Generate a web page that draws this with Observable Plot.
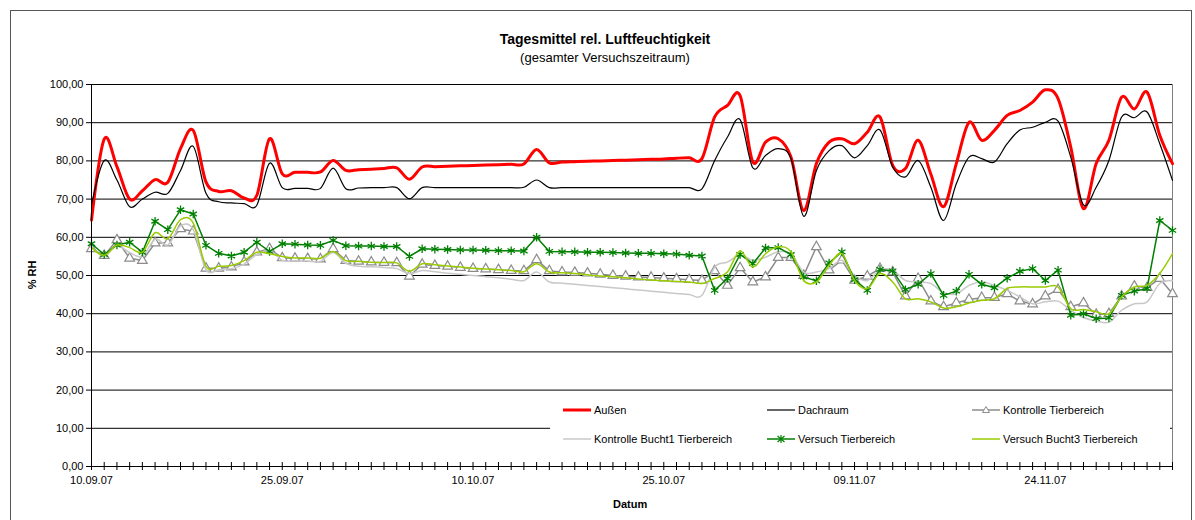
<!DOCTYPE html>
<html>
<head>
<meta charset="utf-8">
<script src="https://cdn.jsdelivr.net/npm/d3@7"></script>
<script src="https://cdn.jsdelivr.net/npm/@observablehq/plot@0.6"></script>
<style>
  html, body { margin: 0; padding: 0; background: #fff; }
  #wrap { position: relative; width: 1195px; height: 520px; font-family: "Liberation Sans", Arial, sans-serif; color: #000; overflow: hidden; }
  #border { position: absolute; left: 10px; top: 10px; width: 1182px; height: 520px; border: 1px solid #555; box-sizing: border-box; }
  #chart { position: absolute; left: 0; top: 0; }
  .t { position: absolute; white-space: nowrap; }
  #legend { position: absolute; left: 550px; top: 396px; width: 620px; height: 62px; background: #fff; font-size: 11px; }
  .li { position: absolute; display: flex; align-items: center; }
  .li svg { margin-right: 2px; }
</style>
</head>
<body>
<div id="wrap">
  <div id="border"></div>
  <div id="chart"></div>
  <div class="t" style="left:0;width:1210px;text-align:center;top:31px;font-size:14px;font-weight:bold;">Tagesmittel rel. Luftfeuchtigkeit</div>
  <div class="t" style="left:0;width:1210px;text-align:center;top:50px;font-size:13px;">(gesamter Versuchszeitraum)</div>
  <div class="t" style="left:32px;top:275px;font-size:11px;font-weight:bold;transform:translate(-50%,-50%) rotate(-90deg);transform-origin:center;">% RH</div>
  <div class="t" style="left:613px;top:498px;font-size:11px;font-weight:bold;">Datum</div>
  <div id="legend"></div>
</div>
<script>
// ---- data ----
const startDate = new Date(Date.UTC(2007, 8, 10));
const tickLabels = ["10.09.07", "25.09.07", "10.10.07", "25.10.07", "09.11.07", "24.11.07"];
const yTicks = [0, 10, 20, 30, 40, 50, 60, 70, 80, 90, 100];

const aussen = [64.5,85.7,78.5,70.0,72.2,75.1,74.4,83.2,88.0,74.5,72.0,72.2,70.3,71.0,85.8,76.6,77.0,77.0,77.1,80.1,77.5,77.7,77.8,78.0,78.2,75.2,78.4,78.5,78.6,78.7,78.8,78.9,79.0,79.1,79.2,83.0,79.5,79.7,79.8,79.9,80.0,80.1,80.2,80.3,80.4,80.5,80.7,80.8,80.6,91.5,94.5,97.1,79.7,84.9,85.8,81.0,67.0,79.3,84.9,85.8,84.5,87.5,91.5,78.8,78.0,85.4,76.5,68.0,79.3,90.1,85.4,88.0,91.9,93.2,95.4,98.6,96.3,83.6,67.5,79.3,85.4,96.7,93.6,98.0,86.7,79.3];
const dachraum = [68.5,80.1,75.0,68.0,70.0,71.8,71.5,77.5,83.8,71.5,69.3,69.0,68.8,68.4,79.4,73.0,72.8,72.8,72.8,78.1,72.7,72.9,73.0,73.0,73.0,70.1,73.0,73.0,73.0,73.0,73.0,73.0,73.0,73.0,73.1,75.0,73.0,73.0,73.0,73.0,73.0,73.0,73.0,73.0,73.0,73.0,73.0,73.0,72.7,80.1,86.2,90.8,78.2,81.4,83.2,80.6,65.5,77.5,82.7,84.0,80.8,84.0,88.1,78.4,75.8,80.1,73.1,64.4,74.0,81.0,80.6,79.7,84.5,88.1,88.8,90.1,90.4,81.0,68.5,73.1,80.1,91.5,91.3,92.8,84.5,74.9];
const kontrolle = [57.0,55.2,59.3,54.5,53.9,58.5,58.5,62.2,61.6,51.9,51.9,52.2,53.5,56.1,57.0,54.6,54.5,54.4,54.3,57.0,53.9,53.7,53.5,53.4,53.3,49.8,52.9,52.6,52.4,52.1,51.8,51.7,51.5,51.3,51.2,54.1,51.2,50.9,50.8,50.6,50.3,50.0,49.8,49.6,49.5,49.3,49.1,48.9,48.7,51.2,47.4,52.0,48.3,49.6,54.7,54.7,50.0,57.5,51.4,54.0,48.7,49.8,51.8,50.9,44.6,49.2,43.3,41.8,42.8,43.7,44.2,44.2,45.2,43.3,42.5,44.6,46.3,41.8,42.8,39.8,40.0,44.6,47.2,46.8,49.2,45.2];
const kontrolleBucht1 = [57.5,55.0,57.8,56.0,55.0,59.5,58.0,63.0,62.0,51.5,51.5,51.8,53.0,55.5,56.5,54.0,53.8,53.8,53.7,56.0,53.2,52.4,52.3,52.1,51.8,50.5,51.3,51.0,50.6,50.3,50.0,49.7,49.4,49.0,48.7,50.9,48.3,48.0,47.7,47.4,47.1,46.8,46.5,46.2,45.9,45.6,45.3,45.0,44.8,52.2,53.5,55.3,54.0,54.8,56.2,55.7,50.9,50.9,51.8,54.0,50.0,48.7,51.4,51.4,48.7,48.3,47.9,45.5,45.2,47.4,48.3,47.4,46.1,44.4,42.6,43.1,43.3,40.9,39.0,38.1,37.8,40.9,42.6,43.1,47.9,48.7];
const versuch = [58.3,55.5,58.0,58.7,56.1,64.2,62.0,67.2,66.1,57.9,55.8,55.1,56.1,58.7,56.3,58.3,58.2,58.0,57.9,59.2,57.8,57.7,57.7,57.6,57.6,55.0,57.0,56.9,56.8,56.7,56.7,56.6,56.5,56.5,56.4,60.0,56.3,56.2,56.2,56.1,56.1,56.0,55.9,55.8,55.8,55.7,55.6,55.3,55.1,46.1,49.2,55.5,53.1,57.2,57.3,55.5,49.6,48.6,53.3,56.2,48.9,46.1,51.6,51.2,46.3,47.7,50.5,44.8,45.9,50.3,47.7,46.8,49.3,51.1,51.8,48.7,51.4,39.6,40.0,38.7,38.9,44.8,45.9,46.6,64.4,61.8];
const versuchBucht3 = [57.3,55.3,58.0,57.3,56.1,61.2,59.6,64.6,63.7,52.4,52.4,52.6,53.9,56.1,55.7,55.0,54.6,54.6,54.5,56.3,53.9,53.7,53.5,53.4,53.3,51.1,53.1,52.8,52.5,52.2,51.9,51.7,51.5,51.3,51.0,53.1,50.9,50.7,50.5,50.2,49.9,49.7,49.4,49.1,48.8,48.6,48.4,48.3,47.9,49.2,50.9,56.4,52.2,55.7,57.5,56.2,48.7,48.3,52.7,55.7,48.7,46.6,50.5,48.3,43.9,43.9,43.1,41.5,41.8,42.8,43.5,43.9,46.6,47.0,47.0,47.0,47.0,41.3,41.1,40.5,40.0,44.4,47.0,47.4,50.5,55.7];

const seriesNames = ["Außen", "Dachraum", "Kontrolle Tierbereich", "Kontrolle Bucht1 Tierbereich", "Versuch Tierbereich", "Versuch Bucht3 Tierbereich"];

// ---- build ----
const dates = aussen.map((_, i) => d3.utcDay.offset(startDate, i));
const labelDates = tickLabels.map((_, i) => d3.utcDay.offset(startDate, i * 15));
const rows = (vals) => vals.map((v, i) => ({date: dates[i], value: v}));
const fmtY = d => d.toFixed(2).replace(".", ",");

const chart = Plot.plot({
  width: 1195,
  height: 520,
  marginLeft: 91,
  marginRight: 23,
  marginTop: 84,
  marginBottom: 54,
  style: {fontFamily: "'Liberation Sans', Arial, sans-serif", fontSize: "11px", color: "#000", background: "transparent", overflow: "visible"},
  x: {type: "utc", domain: [dates[0], dates[dates.length - 1]]},
  y: {domain: [0, 100]},
  marks: [
    Plot.gridY({ticks: yTicks, stroke: "#000", strokeOpacity: 1}),
    Plot.axisY({ticks: yTicks, tickFormat: fmtY, tickSize: 5, tickPadding: 3, label: null, fill: "#000"}),
    Plot.axisX({ticks: labelDates, tickFormat: (d, i) => tickLabels[i], tickSize: 0, tickPadding: 10, label: null, fill: "#000"}),
    Plot.ruleX([dates[dates.length - 1]], {stroke: "#808080"}),
    Plot.line(rows(aussen), {x: "date", y: "value", stroke: "#ff0000", strokeWidth: 3, curve: "cardinal", tension: 0}),
    Plot.line(rows(dachraum), {x: "date", y: "value", stroke: "#000", strokeWidth: 1.2, curve: "cardinal", tension: 0}),
    Plot.line(rows(kontrolle), {x: "date", y: "value", stroke: "#8c8c8c", strokeWidth: 1.5}),
    Plot.dot(rows(kontrolle), {x: "date", y: "value", symbol: "triangle", r: 3.6, stroke: "#8c8c8c", fill: "#fff", strokeWidth: 1.2}),
    Plot.line(rows(kontrolleBucht1), {x: "date", y: "value", stroke: "#c8c8c8", strokeWidth: 1.5, curve: "cardinal", tension: 0}),
    Plot.line(rows(versuch), {x: "date", y: "value", stroke: "#008000", strokeWidth: 1.5}),
    Plot.dot(rows(versuch), {x: "date", y: "value", symbol: "asterisk", r: 4, stroke: "#008000", strokeWidth: 1.3}),
    Plot.line(rows(versuchBucht3), {x: "date", y: "value", stroke: "#99cc00", strokeWidth: 1.5, curve: "cardinal", tension: 0}),
    Plot.ruleX([dates[0]], {stroke: "#000"}),
    Plot.ruleY([0], {stroke: "#000"}),
    Plot.ruleX(dates, {x: d => d, y1: 0, y2: 0, insetTop: -4, insetBottom: -4, stroke: "#000"})
  ]
});
document.getElementById("chart").appendChild(chart);

// ---- legend ----
const legendItems = [
  {name: seriesNames[0], color: "#ff0000", w: 3, marker: null, left: 12, top: 14},
  {name: seriesNames[1], color: "#000", w: 1.2, marker: null, left: 216, top: 14},
  {name: seriesNames[2], color: "#8c8c8c", w: 1.5, marker: "tri", left: 421, top: 14},
  {name: seriesNames[3], color: "#c8c8c8", w: 1.5, marker: null, left: 12, top: 43},
  {name: seriesNames[4], color: "#008000", w: 1.5, marker: "ast", left: 216, top: 43},
  {name: seriesNames[5], color: "#99cc00", w: 1.5, marker: null, left: 421, top: 43}
];
const leg = document.getElementById("legend");
for (const it of legendItems) {
  const d = document.createElement("div");
  d.className = "li";
  d.style.left = it.left + "px";
  d.style.top = (it.top - 7) + "px";
  let m = "";
  if (it.marker === "tri") m = `<path d="M15,1.5 L18.5,7.5 L11.5,7.5 Z" fill="#fff" stroke="${it.color}" stroke-width="1"/>`;
  if (it.marker === "ast") m = `<path d="M15,1 V9 M11.5,2 L18.5,8 M18.5,2 L11.5,8" stroke="${it.color}" stroke-width="1.2"/>`;
  d.innerHTML = `<svg width="30" height="14" viewBox="0 0 30 10"><line x1="1" x2="29" y1="5" y2="5" stroke="${it.color}" stroke-width="${it.w}"/>${m}</svg><span>${it.name}</span>`;
  leg.appendChild(d);
}
</script>
</body>
</html>
